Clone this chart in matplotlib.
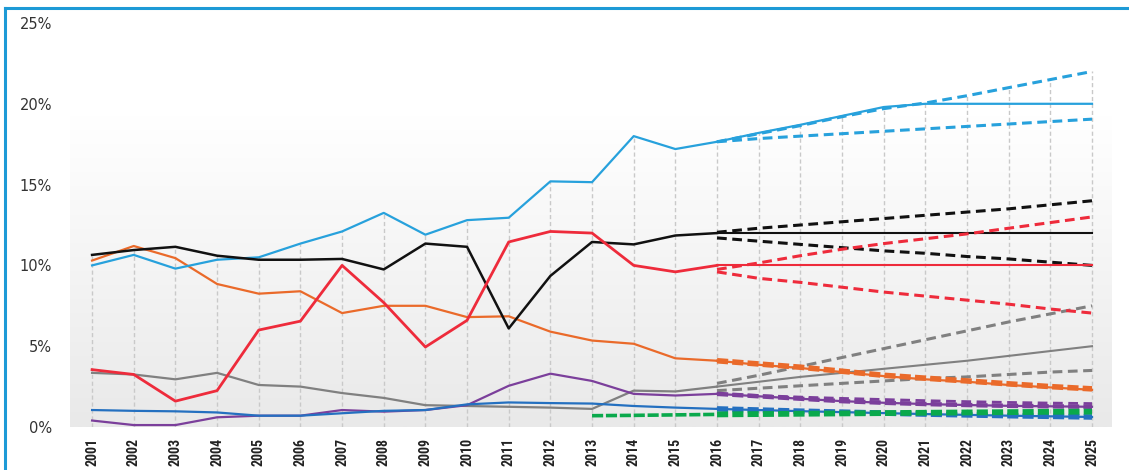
import numpy as np
import matplotlib
matplotlib.use("Agg")
import matplotlib.pyplot as plt
from matplotlib.lines import Line2D
from matplotlib.colors import LinearSegmentedColormap
from matplotlib import font_manager

plt.rcParams['lines.scale_dashes'] = False

# ---------------- data ----------------
hist_years = list(range(2001, 2017))
proj_years = list(range(2016, 2026))
green_years = list(range(2013, 2017))
tick_years = list(range(2001, 2026))

light_blue = [10.0, 10.65, 9.8, 10.35, 10.5, 11.35, 12.1, 13.25, 11.9, 12.8, 12.95, 15.2, 15.15, 18.0, 17.2, 17.65]
black = [10.65, 10.95, 11.15, 10.6, 10.35, 10.35, 10.4, 9.75, 11.35, 11.15, 6.1, 9.35, 11.45, 11.3, 11.85, 12.0]
red = [3.55, 3.25, 1.6, 2.25, 6.0, 6.55, 10.0, 7.7, 4.95, 6.6, 11.45, 12.1, 12.0, 10.0, 9.6, 10.0]
orange = [10.3, 11.2, 10.45, 8.85, 8.25, 8.4, 7.05, 7.5, 7.5, 6.8, 6.85, 5.9, 5.35, 5.15, 4.25, 4.1]
gray = [3.35, 3.25, 2.95, 3.35, 2.6, 2.5, 2.1, 1.8, 1.35, 1.3, 1.25, 1.2, 1.12, 2.25, 2.2, 2.5]
purple = [0.4, 0.12, 0.12, 0.6, 0.7, 0.7, 1.05, 0.95, 1.05, 1.35, 2.55, 3.3, 2.85, 2.05, 1.95, 2.05]
blue = [1.05, 1.0, 0.97, 0.9, 0.7, 0.7, 0.85, 1.0, 1.05, 1.4, 1.52, 1.48, 1.45, 1.3, 1.2, 1.12]
green = [0.7, 0.72, 0.75, 0.78]

lb_base = [17.65, 18.2, 18.7, 19.25, 19.8, 20.0, 20.0, 20.0, 20.0, 20.0]
lb_high = [17.65, 18.15, 18.65, 19.2, 19.7, 20.05, 20.5, 21.0, 21.5, 22.0]
lb_low = [17.65, 17.85, 18.0, 18.15, 18.3, 18.45, 18.6, 18.75, 18.9, 19.05]
black_base = [12.0] * 10
black_high = [12.05, 12.3, 12.5, 12.7, 12.9, 13.1, 13.3, 13.5, 13.75, 14.0]
black_low = [11.7, 11.5, 11.3, 11.1, 10.9, 10.75, 10.55, 10.4, 10.2, 10.0]
red_base = [10.0] * 10
red_high = [9.75, 10.15, 10.6, 11.0, 11.35, 11.65, 11.95, 12.3, 12.65, 13.0]
red_low = [9.6, 9.2, 8.95, 8.65, 8.35, 8.1, 7.85, 7.6, 7.3, 7.05]
gray_base = [2.5, 2.8, 3.1, 3.35, 3.6, 3.85, 4.1, 4.4, 4.7, 5.0]
gray_high = [2.7, 3.2, 3.75, 4.3, 4.85, 5.4, 5.95, 6.5, 7.0, 7.5]
gray_low = [2.25, 2.4, 2.55, 2.7, 2.85, 3.0, 3.1, 3.25, 3.4, 3.5]
orange_base = [4.1, 3.85, 3.65, 3.4, 3.15, 2.95, 2.8, 2.6, 2.45, 2.3]
orange_alt = [4.1, 3.9, 3.7, 3.45, 3.2, 3.02, 2.85, 2.67, 2.5, 2.36]
purple_base = [2.05, 1.9, 1.75, 1.6, 1.5, 1.42, 1.36, 1.31, 1.28, 1.25]
purple_alt = [2.05, 1.95, 1.85, 1.77, 1.7, 1.63, 1.57, 1.52, 1.48, 1.45]
blue_proj = [1.12, 1.05, 0.98, 0.92, 0.86, 0.8, 0.75, 0.7, 0.66, 0.62]
green_proj = [0.78, 0.8, 0.82, 0.84, 0.86, 0.88, 0.9, 0.92, 0.94, 0.95]
y_ticks = [0, 5, 10, 15, 20, 25]

# ---------------- style ----------------
C_LB = '#27a1dc'
C_BK = '#111111'
C_RD = '#ee2b3b'
C_OR = '#ea6a2a'
C_GR = '#808080'
C_PU = '#7b3f9b'
C_BL = '#2470c0'
C_GN = '#0aa94c'

names = {f.name for f in font_manager.fontManager.ttflist}
xfont = 'Roboto'
for cand in ['Liberation Sans Narrow', 'Roboto Condensed', 'Open Sans Condensed',
             'Noto Sans Condensed', 'Roboto']:
    if cand in names:
        xfont = cand
        break

fig = plt.figure(figsize=(11.29, 4.70), dpi=100)
ax = fig.add_axes([70 / 1129, 1 - 427 / 470, (1112 - 70) / 1129, (427 - 23) / 470])
ax.set_xlim(2000.47, 2025.48)
ax.set_ylim(0, 25)
for s in ax.spines.values():
    s.set_visible(False)
ax.set_facecolor('white')

# gradient background (plot area)
cmap = LinearSegmentedColormap.from_list('g', ['#e9e9e9', '#ffffff'])
grad = np.linspace(0, 1, 256).reshape(-1, 1)
ax.imshow(grad, extent=[2000.47, 2025.48, 0, 19.3], origin='lower', cmap=cmap,
          aspect='auto', zorder=0)

# drop lines
all_vals = {}
for yrs, vals in [(hist_years, light_blue), (hist_years, black), (hist_years, red),
                  (hist_years, orange), (hist_years, gray), (hist_years, purple),
                  (hist_years, blue), (green_years, green), (proj_years, lb_base),
                  (proj_years, lb_high), (proj_years, lb_low), (proj_years, black_high),
                  (proj_years, red_high), (proj_years, gray_high)]:
    for yy, v in zip(yrs, vals):
        all_vals[yy] = max(all_vals.get(yy, 0), v)
for yy in tick_years:
    ax.plot([yy, yy], [0, all_vals[yy]], color='#c9c9c9', lw=1.0,
            dashes=(3, 2), zorder=1)

lw = 1.6
dash = (7, 4)
# historical
ax.plot(hist_years, light_blue, color=C_LB, lw=lw, zorder=5)
ax.plot(hist_years, black, color=C_BK, lw=1.8, zorder=5)
ax.plot(hist_years, red, color=C_RD, lw=2.0, zorder=5)
ax.plot(hist_years, orange, color=C_OR, lw=lw, zorder=4)
ax.plot(hist_years, gray, color=C_GR, lw=lw, zorder=4)
ax.plot(hist_years, purple, color=C_PU, lw=lw, zorder=4)
ax.plot(hist_years, blue, color=C_BL, lw=lw, zorder=4)
ax.plot(green_years, green, color=C_GN, lw=2.6, dashes=(8, 2), zorder=4)

# projections
ax.plot(proj_years, lb_base, color=C_LB, lw=lw, zorder=5)
ax.plot(proj_years, lb_high, color=C_LB, lw=2.2, dashes=dash, zorder=5)
ax.plot(proj_years, lb_low, color=C_LB, lw=2.2, dashes=dash, zorder=5)
ax.plot(proj_years, black_base, color=C_BK, lw=1.5, zorder=5)
ax.plot(proj_years, black_high, color=C_BK, lw=2.2, dashes=dash, zorder=5)
ax.plot(proj_years, black_low, color=C_BK, lw=2.2, dashes=dash, zorder=5)
ax.plot(proj_years, red_base, color=C_RD, lw=1.5, zorder=5)
ax.plot(proj_years, red_high, color=C_RD, lw=2.2, dashes=dash, zorder=5)
ax.plot(proj_years, red_low, color=C_RD, lw=2.2, dashes=dash, zorder=5)
ax.plot(proj_years, gray_base, color=C_GR, lw=1.5, zorder=4)
ax.plot(proj_years, gray_high, color=C_GR, lw=2.2, dashes=dash, zorder=4)
ax.plot(proj_years, gray_low, color=C_GR, lw=2.2, dashes=dash, zorder=4)
ax.plot(proj_years, orange_base, color=C_OR, lw=1.6, zorder=4)
ax.plot(proj_years, orange_alt, color=C_OR, lw=4.0, dashes=(8, 3), zorder=4)
ax.plot(proj_years, purple_base, color=C_PU, lw=1.6, zorder=4)
ax.plot(proj_years, purple_base, color=C_PU, lw=3.2, dashes=(8, 3), zorder=4)
ax.plot(proj_years, purple_alt, color=C_PU, lw=2.0, dashes=dash, zorder=4)
ax.plot(proj_years, blue_proj, color=C_BL, lw=1.6, zorder=4)
ax.plot(proj_years, blue_proj, color=C_BL, lw=4.0, dashes=(8, 3), zorder=4)
ax.plot(proj_years, green_proj, color=C_GN, lw=4.2, dashes=(8, 3), zorder=4)

# ticks
ax.set_yticks(y_ticks)
ax.set_yticklabels([f'{v}%' for v in y_ticks], fontsize=10.5, color='#333333',
                   family='DejaVu Sans')
ax.set_xticks(tick_years)
ax.set_xticklabels([str(y) for y in tick_years], rotation=90, fontsize=10,
                   color='#222222', family=xfont, fontweight='bold',
                   fontstretch='condensed')
ax.tick_params(axis='both', length=0)
ax.tick_params(axis='y', pad=13)
ax.tick_params(axis='x', pad=8)

# frame (blue border top and left)
fig.add_artist(Line2D([5 / 1129, 1.0], [1 - 8 / 470, 1 - 8 / 470], color='#1d9ad6',
                      lw=2.2, transform=fig.transFigure))
fig.add_artist(Line2D([5 / 1129, 5 / 1129], [0, 1 - 8 / 470], color='#1d9ad6',
                      lw=2.2, transform=fig.transFigure))

fig.savefig('out.png', dpi=100)
